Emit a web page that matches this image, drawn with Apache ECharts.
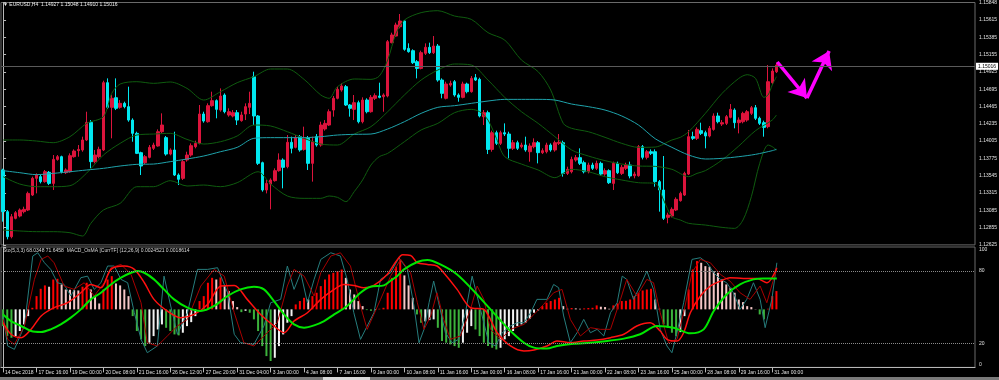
<!DOCTYPE html>
<html><head><meta charset="utf-8">
<script src="https://cdn.jsdelivr.net/npm/echarts@6/dist/echarts.min.js"></script>
<style>html,body{margin:0;padding:0;background:#000;}#c{width:999px;height:380px;}</style>
</head><body><div id="c"></div>
<script>
const priceTicks = [1.12625,1.12855,1.13085,1.13315,1.13545,1.13775,1.14005,1.14235,1.14465,1.14695,1.14925,1.15155,1.15385,1.15615,1.15848];
const stochTicks = [0,20,80,100];
const timeLabels = ['14 Dec 2018','17 Dec 16:00','19 Dec 00:00','20 Dec 08:00','21 Dec 16:00','26 Dec 12:00','27 Dec 20:00','31 Dec 04:00','3 Jan 00:00','4 Jan 08:00','7 Jan 16:00','9 Jan 00:00','10 Jan 08:00','11 Jan 16:00','15 Jan 00:00','16 Jan 08:00','17 Jan 16:00','21 Jan 00:00','22 Jan 08:00','23 Jan 16:00','25 Jan 00:00','28 Jan 08:00','29 Jan 16:00','31 Jan 00:00'];

const open = [1.13621,1.13067,1.12734,1.12978,1.13009,1.13067,1.13089,1.13288,1.13510,1.13532,
1.13466,1.13590,1.13443,1.13762,1.13798,1.13585,1.13598,1.13798,1.13878,1.13887,
1.14020,1.14254,1.13732,1.13798,1.13887,1.14782,1.14454,1.14582,1.14454,1.14507,
1.14463,1.14285,1.14108,1.13851,1.13718,1.13789,1.13909,1.13940,1.14130,1.14051,
1.13833,1.13887,1.13554,1.13510,1.13754,1.13820,1.13931,1.13975,1.14365,1.14263,
1.14476,1.14543,1.14418,1.14618,1.14352,1.14339,1.14383,1.14277,1.14365,1.14454,
1.14862,1.14339,1.13718,1.13355,1.13435,1.13479,1.13612,1.13754,1.13665,1.13989,
1.13922,1.14064,1.13895,1.14042,1.13709,1.14064,1.13953,1.14166,1.14219,1.14418,
1.14574,1.14684,1.14729,1.14485,1.14427,1.14516,1.14263,1.14551,1.14396,1.14574,
1.14605,1.14596,1.14605,1.15314,1.15402,1.15526,1.15602,1.15238,1.15207,1.15061,
1.14972,1.15172,1.15252,1.15181,1.15269,1.14817,1.14574,1.14751,1.14795,1.14618,
1.14587,1.14764,1.14662,1.14848,1.14826,1.14330,1.14383,1.13895,1.14117,1.13975,
1.14117,1.14099,1.13909,1.13984,1.13931,1.13953,1.13864,1.13931,1.13984,1.13851,
1.13864,1.13953,1.13887,1.13975,1.13984,1.13576,1.13598,1.13754,1.13785,1.13718,
1.13598,1.13687,1.13643,1.13709,1.13567,1.13612,1.13443,1.13709,1.13576,1.13643,
1.13687,1.13545,1.13545,1.13931,1.13789,1.13864,1.13864,1.13466,1.13355,1.12991,
1.13009,1.13089,1.13213,1.13288,1.13567,1.14064,1.14042,1.14144,1.14117,1.14073,
1.14161,1.14339,1.14232,1.14241,1.14321,1.14418,1.14250,1.14263,1.14285,1.14374,
1.14449,1.14308,1.14250,1.14197,1.14782,1.14927];
const high = [1.13638,1.13089,1.13036,1.13075,1.13110,1.13133,1.13333,1.13532,1.13576,1.13563,
1.13621,1.13607,1.13820,1.13820,1.13811,1.13643,1.13842,1.13895,1.13953,1.14064,
1.14396,1.14285,1.13887,1.13931,1.14808,1.14839,1.14618,1.14839,1.14551,1.14529,
1.14729,1.14308,1.14130,1.13864,1.13820,1.13953,1.13984,1.14161,1.14374,1.14073,
1.13909,1.14130,1.13576,1.13754,1.13864,1.13975,1.14011,1.14485,1.14396,1.14507,
1.14662,1.14560,1.14706,1.14640,1.14441,1.14418,1.14418,1.14396,1.14507,1.14662,
1.14928,1.14352,1.13732,1.13488,1.13510,1.13643,1.13842,1.13776,1.14086,1.14064,
1.14086,1.14086,1.14197,1.14073,1.14064,1.14099,1.14263,1.14285,1.14427,1.14605,
1.14729,1.14773,1.14751,1.14498,1.14618,1.14543,1.14587,1.14574,1.14618,1.14640,
1.14782,1.14640,1.15349,1.15447,1.15580,1.15695,1.15615,1.15305,1.15225,1.15083,
1.15207,1.15305,1.15314,1.15402,1.15296,1.14839,1.14795,1.14808,1.14817,1.14640,
1.14795,1.14782,1.14870,1.14897,1.14848,1.14418,1.14410,1.14144,1.14144,1.14144,
1.14241,1.14130,1.14020,1.14011,1.13984,1.14064,1.13975,1.14042,1.14006,1.13909,
1.13984,1.13975,1.14011,1.14099,1.14011,1.13665,1.13798,1.13820,1.13909,1.13745,
1.13718,1.13718,1.13745,1.13732,1.13643,1.13630,1.13732,1.13732,1.13687,1.13718,
1.13732,1.13598,1.13953,1.13953,1.13887,1.13895,1.13895,1.13488,1.13807,1.13053,
1.13124,1.13257,1.13333,1.13598,1.14153,1.14130,1.14188,1.14250,1.14144,1.14206,
1.14374,1.14383,1.14285,1.14352,1.14498,1.14441,1.14321,1.14396,1.14418,1.14472,
1.14485,1.14330,1.14277,1.15017,1.14972,1.15048];
const low = [1.12934,1.12699,1.12712,1.12965,1.12991,1.13044,1.13075,1.13275,1.13310,1.13443,
1.13452,1.13421,1.13355,1.13745,1.13576,1.13567,1.13585,1.13785,1.13798,1.13864,
1.14006,1.13643,1.13709,1.13776,1.13873,1.14432,1.14042,1.14418,1.14436,1.14441,
1.14263,1.13997,1.13833,1.13554,1.13700,1.13776,1.13887,1.13931,1.14108,1.13811,
1.13816,1.13541,1.13421,1.13488,1.13732,1.13798,1.13909,1.13962,1.14250,1.14250,
1.14463,1.14308,1.14396,1.14374,1.14330,1.14321,1.14219,1.14263,1.14285,1.14365,
1.14219,1.13687,1.13333,1.13310,1.13098,1.13466,1.13598,1.13377,1.13643,1.13842,
1.13909,1.13864,1.13878,1.13621,1.13466,1.13931,1.13931,1.14144,1.14206,1.14330,
1.14560,1.14662,1.14472,1.14330,1.14285,1.14241,1.14241,1.14374,1.14383,1.14551,
1.14574,1.14396,1.14587,1.15305,1.15393,1.15504,1.15207,1.15181,1.15030,1.14839,
1.14959,1.15150,1.15163,1.15163,1.14795,1.14574,1.14560,1.14729,1.14596,1.14529,
1.14574,1.14640,1.14649,1.14804,1.14321,1.14219,1.13833,1.13864,1.13953,1.13953,
1.14073,1.13776,1.13887,1.13887,1.13909,1.13864,1.13732,1.13909,1.13709,1.13833,
1.13842,1.13864,1.13864,1.13953,1.13532,1.13554,1.13576,1.13732,1.13687,1.13576,
1.13576,1.13621,1.13621,1.13541,1.13545,1.13435,1.13355,1.13567,1.13554,1.13621,
1.13510,1.13510,1.13532,1.13762,1.13762,1.13820,1.13399,1.13067,1.12956,1.12912,
1.12991,1.13075,1.13200,1.13275,1.13554,1.14020,1.14020,1.14086,1.13909,1.14055,
1.14144,1.14241,1.14206,1.14219,1.14308,1.14175,1.14108,1.14241,1.14263,1.14352,
1.14285,1.14219,1.14064,1.14175,1.14764,1.14910];
const close = [1.13067,1.12734,1.13000,1.13053,1.13089,1.13098,1.13310,1.13510,1.13554,1.13466,
1.13598,1.13443,1.13762,1.13798,1.13598,1.13621,1.13811,1.13873,1.13895,1.14020,
1.14254,1.13732,1.13820,1.13895,1.14782,1.14454,1.14574,1.14441,1.14507,1.14463,
1.14285,1.14108,1.13842,1.13674,1.13798,1.13922,1.13953,1.14130,1.14219,1.13833,
1.13887,1.13554,1.13497,1.13732,1.13820,1.13944,1.13975,1.14365,1.14272,1.14476,
1.14543,1.14427,1.14605,1.14396,1.14396,1.14383,1.14285,1.14352,1.14463,1.14507,
1.14339,1.13709,1.13355,1.13443,1.13488,1.13612,1.13754,1.13656,1.13989,1.13909,
1.14051,1.13887,1.14042,1.13709,1.13997,1.13953,1.14219,1.14241,1.14396,1.14574,
1.14693,1.14738,1.14485,1.14441,1.14516,1.14263,1.14551,1.14396,1.14587,1.14609,
1.14587,1.14618,1.15327,1.15416,1.15549,1.15602,1.15225,1.15194,1.15048,1.14972,
1.15181,1.15252,1.15181,1.15269,1.14817,1.14640,1.14764,1.14773,1.14618,1.14587,
1.14764,1.14662,1.14839,1.14817,1.14339,1.14383,1.13895,1.14117,1.13975,1.14117,
1.14099,1.13909,1.13984,1.13909,1.13953,1.13887,1.13940,1.13984,1.13851,1.13878,
1.13953,1.13887,1.13984,1.13989,1.13576,1.13630,1.13762,1.13785,1.13709,1.13598,
1.13687,1.13643,1.13709,1.13567,1.13612,1.13452,1.13709,1.13585,1.13656,1.13687,
1.13541,1.13567,1.13931,1.13789,1.13864,1.13842,1.13466,1.13355,1.12978,1.13022,
1.13098,1.13231,1.13310,1.13576,1.14064,1.14042,1.14161,1.14108,1.14073,1.14175,
1.14339,1.14263,1.14250,1.14330,1.14427,1.14250,1.14285,1.14374,1.14396,1.14449,
1.14308,1.14241,1.14188,1.14795,1.14937,1.15016];

const osma = [-13.9,-22.2,-23.6,-22.2,-18.0,-12.5,-5.6,1.3,11.0,17.1,
19.9,18.8,24.8,25.4,20.7,16.5,16.3,16.0,15.7,18.8,
22.1,16.5,11.0,4.9,16.5,24.8,27.6,21.5,19.9,16.5,
11.0,-5.6,-18.0,-24.9,-30.5,-27.7,-22.2,-16.7,-12.5,-15.3,
-18.0,-20.8,-21.6,-19.4,-13.9,-10.6,-5.6,6.9,11.0,22.1,
26.2,24.8,26.5,19.3,15.2,6.9,1.9,-2.3,-1.2,-2.8,
-8.3,-18.0,-30.5,-38.8,-42.9,-40.2,-30.5,-20.8,-11.1,-5.6,
4.1,6.9,9.6,8.2,11.0,13.8,19.3,24.8,29.0,30.4,
31.8,33.1,26.2,16.5,12.4,6.9,2.7,-0.6,-1.2,-0.6,
0.5,1.3,13.8,26.2,35.4,41.4,28.2,19.9,9.6,-4.2,
-11.1,-10.0,-8.9,-8.3,-15.3,-26.3,-27.7,-29.1,-30.5,-31.9,
-27.7,-19.4,-13.9,-16.7,-22.2,-27.7,-30.5,-31.9,-33.3,-31.9,
-24.9,-22.2,-18.0,-13.9,-12.5,-11.1,-7.8,-2.8,-0.9,2.7,
5.5,6.9,8.2,9.6,2.7,0.5,1.1,0.8,0.5,0.8,
1.1,1.3,3.3,2.2,1.9,0.5,3.3,4.9,6.9,7.1,
8.2,11.0,13.8,15.7,16.5,17.1,8.2,0.5,-12.5,-15.3,
-19.4,-22.2,-18.9,-5.6,16.5,33.1,40.1,38.7,35.9,35.4,
31.8,30.4,24.8,20.7,17.9,13.8,8.2,6.0,2.7,1.9,
0.2,-4.2,-8.3,0.5,11.0,15.2];

const bbUpper = [[0,1.14020],[4,1.14020],[8,1.14006],[12,1.13984],[16,1.14064],[20,1.14241],[24,1.14330],[26,1.14640],[28,1.14764],[32,1.14795],[36,1.14773],[40,1.14791],[44,1.14706],[48,1.14551],[52,1.14662],[56,1.14782],[60,1.14862],[64,1.14964],[68,1.14964],[72,1.14826],[76,1.14618],[78,1.14574],[80,1.14729],[84,1.14831],[88,1.14826],[90,1.14870],[92,1.15083],[94,1.15438],[96,1.15615],[100,1.15713],[104,1.15739],[108,1.15668],[112,1.15624],[116,1.15447],[120,1.15349],[124,1.15083],[128,1.14928],[131,1.14684],[134,1.14241],[136,1.14175],[140,1.14130],[144,1.14055],[148,1.13975],[152,1.13922],[156,1.13926],[160,1.14020],[162,1.14055],[164,1.14130],[168,1.14374],[172,1.14640],[176,1.14839],[178,1.14888],[180,1.14839],[182,1.14587],[183,1.14618],[184,1.14751],[185,1.14862]];
const bbMiddle = [[0,1.13532],[4,1.13434],[8,1.13399],[12,1.13399],[16,1.13412],[20,1.13580],[24,1.13820],[28,1.13975],[32,1.14086],[36,1.14099],[40,1.14108],[44,1.14028],[48,1.13966],[52,1.13997],[56,1.14073],[60,1.14219],[64,1.14206],[68,1.14130],[72,1.14042],[76,1.13966],[80,1.13953],[84,1.14099],[88,1.14197],[92,1.14396],[96,1.14618],[100,1.14817],[104,1.14950],[108,1.15030],[112,1.15017],[116,1.14817],[120,1.14587],[124,1.14396],[128,1.14241],[132,1.14064],[136,1.13887],[140,1.13807],[144,1.13745],[148,1.13700],[152,1.13674],[156,1.13669],[160,1.13630],[164,1.13532],[166,1.13576],[168,1.13612],[172,1.13754],[176,1.13940],[180,1.14144],[184,1.14285],[185,1.14352]];
const bbLower = [[0,1.12823],[4,1.12810],[8,1.12801],[12,1.12801],[16,1.12787],[19,1.12743],[21,1.12912],[24,1.13089],[28,1.13177],[32,1.13399],[36,1.13399],[40,1.13479],[44,1.13408],[48,1.13421],[52,1.13399],[56,1.13452],[61,1.13598],[64,1.13434],[68,1.13275],[72,1.13244],[76,1.13244],[78,1.13275],[80,1.13257],[82,1.13200],[84,1.13333],[86,1.13488],[88,1.13687],[90,1.13798],[92,1.13842],[96,1.13997],[100,1.14153],[104,1.14241],[108,1.14383],[112,1.14427],[114,1.14396],[116,1.14285],[118,1.14042],[120,1.13798],[124,1.13700],[128,1.13621],[132,1.13519],[136,1.13630],[140,1.13598],[144,1.13532],[148,1.13488],[152,1.13452],[156,1.13443],[158,1.13222],[160,1.13000],[162,1.12956],[164,1.12912],[168,1.12889],[172,1.12858],[175,1.12845],[177,1.12956],[179,1.13266],[181,1.13709],[183,1.13953],[184,1.13931],[185,1.13887]];
const maLine = [[0,1.13612],[4,1.13585],[8,1.13559],[12,1.13576],[16,1.13598],[20,1.13621],[24,1.13643],[28,1.13674],[32,1.13696],[36,1.13700],[40,1.13732],[44,1.13767],[48,1.13807],[52,1.13864],[56,1.13922],[60,1.14042],[64,1.14051],[68,1.14051],[72,1.14051],[76,1.14064],[80,1.14086],[84,1.14095],[88,1.14099],[92,1.14166],[96,1.14263],[100,1.14374],[104,1.14454],[108,1.14476],[112,1.14507],[116,1.14538],[120,1.14560],[124,1.14560],[128,1.14560],[132,1.14551],[136,1.14498],[140,1.14463],[144,1.14418],[148,1.14339],[152,1.14219],[156,1.14037],[160,1.13922],[164,1.13820],[168,1.13767],[172,1.13776],[176,1.13798],[180,1.13829],[184,1.13878],[185,1.13895]];

const stoMain = [[0,42.7],[1.1,17.8],[2.7,15.0],[5.1,34.4],[7.1,92.5],[8.3,95.2],[9.9,86.9],[11.4,81.4],[13,70.3],[14.6,68.9],[16.2,59.3],[18.6,74.5],[20.2,75.8],[21.8,64.8],[23.4,70.3],[25,84.2],[26.6,84.2],[28.2,73.1],[29.8,70.3],[31.4,45.4],[33,23.3],[34.5,12.2],[36.9,17.8],[38.5,75.8],[40.1,51.0],[41.7,27.5],[44.1,45.4],[46.5,81.4],[48.9,81.4],[51.3,82.8],[53.7,62.0],[55.3,27.5],[56.8,20.5],[60,19.1],[62.4,34.4],[64,53.7],[66.4,56.5],[68,84.2],[69.6,64.8],[71.2,78.6],[72.8,53.7],[74.4,73.1],[76,89.7],[78.4,95.2],[80.7,92.5],[82.3,73.1],[83.9,45.4],[85.5,23.3],[87.1,34.4],[88.7,45.4],[90.3,73.1],[92.7,78.6],[94.7,91.1],[96.7,81.4],[98.3,51.0],[99.5,20.5],[100.7,31.6],[101.9,53.7],[103,71.7],[104.2,53.7],[105.8,28.8],[107.4,20.5],[109,23.3],[110.6,45.4],[112.2,75.8],[113.4,59.3],[114.6,42.7],[116.2,20.5],[117.8,17.8],[119.4,28.8],[121.4,34.4],[123,37.1],[124.6,37.1],[126.2,45.4],[127.7,56.5],[130.1,56.5],[131.7,68.9],[132.9,66.2],[134.1,42.7],[135.7,20.5],[137.3,28.8],[138.9,39.9],[140.5,28.8],[142.1,31.6],[143.7,26.1],[145.3,45.4],[146.9,53.7],[148.1,75.8],[149.2,73.1],[150.8,56.5],[152.4,67.6],[154,80.0],[155.6,64.8],[157.2,31.6],[158.8,17.8],[160,12.2],[161.2,28.8],[162.8,53.7],[164.8,89.7],[166.8,91.1],[168.4,86.9],[170,78.6],[171.6,73.1],[173.1,70.3],[174.7,62.0],[176.3,48.2],[177.9,56.5],[179.5,70.3],[181.1,56.5],[182.3,33.0],[183.9,56.5],[185.1,86.9]];
const stoSignal = [[0,39.9],[1.1,23.3],[2.7,19.1],[5.1,34.4],[7.5,73.1],[9.1,89.7],[10.7,92.5],[12.2,86.9],[14.6,67.6],[17,64.8],[19.4,70.3],[21.8,59.3],[24.2,70.3],[25.8,82.8],[28.2,85.5],[30.6,77.2],[33,53.7],[34.5,20.5],[36.9,17.8],[39.3,26.1],[41.7,34.4],[44.1,39.9],[47.3,67.6],[50.5,81.4],[52.9,75.8],[55.3,45.4],[57.6,20.5],[60,17.8],[62.4,26.1],[65.6,37.1],[68,67.6],[69.6,81.4],[72,75.8],[74.4,59.3],[76,78.6],[78.4,92.5],[80.7,95.2],[83.1,84.2],[85.5,51.0],[87.1,31.6],[90.3,56.5],[92.7,75.8],[95.1,89.7],[97.5,78.6],[99.1,53.7],[100.7,31.6],[102.3,42.7],[103.8,62.0],[105.4,39.9],[107,23.3],[109.4,26.1],[111.8,48.2],[113.4,67.6],[115,56.5],[116.6,31.6],[119,23.3],[121.4,31.6],[124.6,35.7],[127,44.0],[129.3,52.3],[131.7,62.0],[133.7,64.8],[135.7,39.9],[138.1,26.1],[140.5,33.0],[142.9,31.6],[145.3,31.6],[147.7,56.5],[149.2,73.1],[151.6,59.3],[154,73.1],[155.6,70.3],[157.2,45.4],[159.2,20.5],[161.2,23.3],[162.8,45.4],[164.8,78.6],[166.8,89.7],[169.2,86.9],[171.6,77.2],[173.9,71.7],[176.3,62.0],[178.7,56.5],[181.1,67.6],[182.7,53.7],[184.3,73.1],[185.1,81.4]];
const redLine = [[0,37.1],[1.9,27.5],[4.3,24.7],[6.7,31.6],[9.1,42.7],[12.2,49.6],[15.4,53.7],[18.6,62.0],[21,68.9],[23.4,66.2],[25.8,81.4],[29,84.2],[31.4,81.4],[33.8,70.3],[36.1,56.5],[39.3,46.8],[42.5,41.3],[45.7,44.0],[48.9,52.3],[52.1,67.6],[55.3,68.1],[58.4,56.5],[61.6,44.0],[64.8,34.4],[67.2,28.8],[69.6,38.5],[72.8,45.4],[76,56.5],[79.2,64.8],[81.5,68.9],[83.9,68.1],[86.3,66.2],[88.7,68.1],[91.9,77.2],[94,88.0],[95.6,93.5],[97.5,93.0],[99.1,86.9],[101.5,85.5],[103.8,84.2],[105.4,78.6],[108.6,64.8],[111.8,49.6],[115,48.2],[118.2,28.8],[121.4,17.8],[124.6,13.6],[127,14.5],[130.1,17.8],[132.5,21.9],[135.7,20.5],[138.9,21.9],[142.1,22.7],[145.3,24.7],[148.5,27.5],[151.6,34.4],[154.8,37.1],[157.2,30.2],[158.8,23.3],[161.2,21.9],[162.8,28.8],[164.4,45.4],[166.8,59.3],[169.2,67.6],[171.6,71.7],[173.9,74.5],[177.1,73.9],[180.3,73.9],[182.7,70.3],[185.1,82.8]];
const greenLine = [[0,44.0],[1.9,38.5],[4.3,34.4],[6.7,30.2],[9.1,29.4],[11.4,31.6],[13.8,35.7],[16.2,41.3],[18.6,48.2],[21,56.5],[23.4,62.0],[25.8,68.9],[28.2,74.5],[30.6,78.6],[32.2,80.0],[33.8,78.6],[36.1,73.1],[38.5,64.8],[40.9,56.5],[44.1,49.6],[47.3,46.8],[50.5,51.0],[53.7,59.3],[56.8,64.8],[60,67.0],[62.4,64.8],[64.8,55.1],[67.2,44.0],[69.6,35.7],[72,33.0],[74.4,34.9],[76.8,38.5],[79.2,44.0],[82.3,51.0],[85.5,62.0],[87.9,67.0],[91.1,68.1],[92.7,72.0],[94.3,76.0],[95.9,81.4],[99.1,87.5],[101.5,89.1],[104.6,85.5],[108.6,77.2],[112.6,63.4],[116.6,48.2],[120.6,33.0],[124.6,20.5],[127,16.4],[130.1,15.6],[132.5,17.8],[136.5,19.7],[140.5,20.5],[144.5,21.9],[148.5,23.9],[152.4,27.5],[156.4,34.4],[160.4,33.0],[164.4,28.3],[167.6,31.6],[170,46.8],[173.1,60.6],[176.3,68.9],[179.5,73.1],[181.9,73.9],[185.1,73.9]];

const arrowPath = [[185.2,1.15057],[192.3,1.14578],[197.6,1.15203]];
const currentPrice = 1.15016;
const titleMain = '\u25BC EURUSD,H4  1.14927 1.15048 1.14910 1.15016';
const titleSub = 'Sto(5,3,3) 68.0348 71.6458  MACD_OsMA [CurrTF] (12,26,9) 0.0024521 0.0018614';

const SLOTS = 233;
const FONT = 'Liberation Sans';
const cats = Array.from({length: SLOTS}, (_, i) => (i % 8 === 0 && i / 8 < timeLabels.length) ? timeLabels[i / 8] : '');
const ohlc = open.map((o, i) => [o, close[i], low[i], high[i]]);
const histData = osma.map((v, i) => {
  const p = i ? osma[i - 1] : v;
  let c;
  if (v >= 0) c = v >= p ? '#ff0000' : '#f4c6c6';
  else c = v <= p ? '#3cb33c' : '#f2f2f2';
  return {value: v, itemStyle: {color: c}};
});
const showTick = (idx, val) => val !== '';
const axisCol = '#b8b8b8';
const labCol = '#e0e0e0';

const chart = echarts.init(document.getElementById('c'), null, {renderer: 'canvas'});
chart.setOption({
  animation: false,
  backgroundColor: '#000',
  title: [
    {text: titleMain, left: 3, top: 2, padding: 0, textStyle: {color: '#f0f0f0', fontSize: 5, fontWeight: 'normal', fontFamily: FONT}},
    {text: titleSub, left: 3, top: 248, padding: 0, textStyle: {color: '#d8d8d8', fontSize: 5, fontWeight: 'normal', fontFamily: FONT}}
  ],
  grid: [
    {left: 1, right: 24, top: 2.5, height: 242.4, show: true, borderColor: '#6a6a6a', borderWidth: 1, outerBoundsMode: 'none', containLabel: false},
    {left: 1, right: 24, top: 247, height: 120.4, show: true, borderColor: '#6a6a6a', borderWidth: 1, outerBoundsMode: 'none', containLabel: false}
  ],
  xAxis: [
    {type: 'category', gridIndex: 0, data: cats, boundaryGap: true, axisLine: {show: false}, axisTick: {show: false}, axisLabel: {show: false}, splitLine: {show: false}},
    {type: 'value', gridIndex: 0, min: -0.5, max: SLOTS - 0.5, show: false},
    {type: 'category', gridIndex: 1, data: cats, boundaryGap: true,
     axisLine: {show: true, lineStyle: {color: axisCol, width: 1}},
     axisTick: {show: true, interval: showTick, alignWithLabel: true, length: 5, lineStyle: {color: axisCol}},
     axisLabel: {show: true, interval: showTick, align: 'left', padding: [0, 0, 0, 2], margin: 3, color: labCol, fontSize: 5, fontFamily: FONT},
     splitLine: {show: false}},
    {type: 'value', gridIndex: 1, min: -0.5, max: SLOTS - 0.5, show: false}
  ],
  yAxis: [
    {type: 'value', gridIndex: 0, position: 'right', min: 1.12625, max: 1.15848,
     axisLine: {show: true, lineStyle: {color: axisCol}},
     axisTick: {show: true, length: 3, customValues: priceTicks, lineStyle: {color: axisCol}},
     axisLabel: {show: true, customValues: priceTicks, formatter: v => v.toFixed(5), color: labCol, fontSize: 5, margin: 4, fontFamily: FONT},
     splitLine: {show: false}},
    {type: 'value', gridIndex: 1, position: 'right', min: 0, max: 100,
     axisLine: {show: true, lineStyle: {color: axisCol}},
     axisTick: {show: true, length: 3, customValues: stochTicks, lineStyle: {color: axisCol}},
     axisLabel: {show: true, customValues: stochTicks, formatter: v => String(v), color: labCol, fontSize: 5, margin: 4, fontFamily: FONT, verticalAlignMinLabel: 'bottom', verticalAlignMaxLabel: 'top'},
     splitLine: {show: false}},
    {type: 'value', gridIndex: 1, min: -48.2, max: 51.8, show: false}
  ],
  series: [
    {type: 'line', name: 'BB upper', xAxisIndex: 1, yAxisIndex: 0, data: bbUpper, showSymbol: false, smooth: 0.3, lineStyle: {color: '#0f5c0f', width: 1}, silent: true},
    {type: 'line', name: 'BB middle', xAxisIndex: 1, yAxisIndex: 0, data: bbMiddle, showSymbol: false, smooth: 0.3, lineStyle: {color: '#0f5c0f', width: 1}, silent: true},
    {type: 'line', name: 'BB lower', xAxisIndex: 1, yAxisIndex: 0, data: bbLower, showSymbol: false, smooth: 0.3, lineStyle: {color: '#0f5c0f', width: 1}, silent: true},
    {type: 'line', name: 'MA', xAxisIndex: 1, yAxisIndex: 0, data: maLine, showSymbol: false, smooth: 0.3, lineStyle: {color: '#1fa3ab', width: 1}, silent: true,
     markLine: {silent: true, symbol: ['none', 'arrow'], symbolSize: 17, label: {show: false},
       lineStyle: {color: '#ff00ff', width: 3.5, type: 'solid'},
       data: [
         [{coord: arrowPath[0]}, {coord: arrowPath[1]}],
         [{coord: arrowPath[1]}, {coord: arrowPath[2]}]
       ]}},
    {type: 'candlestick', name: 'EURUSD', xAxisIndex: 0, yAxisIndex: 0, data: ohlc, barWidth: 3,
     itemStyle: {color: '#dc143c', color0: '#00e8f0', borderColor: '#dc143c', borderColor0: '#00e8f0', borderWidth: 1},
     markLine: {silent: true, symbol: ['none', 'none'],
       lineStyle: {color: '#5a5a5a', width: 1, type: 'solid'},
       label: {show: true, position: 'end', distance: 1, formatter: () => currentPrice.toFixed(5), backgroundColor: '#ffffff', color: '#000', fontSize: 5, fontFamily: FONT, padding: [1, 2, 1, 2]},
       data: [{yAxis: currentPrice}]}},
    {type: 'bar', name: 'OsMA', xAxisIndex: 2, yAxisIndex: 2, data: histData, barWidth: 2, silent: true},
    {type: 'line', name: 'Sto main', xAxisIndex: 3, yAxisIndex: 1, data: stoMain, showSymbol: false, lineStyle: {color: '#267d7d', width: 1}, silent: true,
     markLine: {silent: true, symbol: ['none', 'none'], label: {show: false}, lineStyle: {color: '#8a8a8a', width: 1, type: 'dotted'}, data: [{yAxis: 20}, {yAxis: 80}]}},
    {type: 'line', name: 'Sto signal', xAxisIndex: 3, yAxisIndex: 1, data: stoSignal, showSymbol: false, lineStyle: {color: '#a80000', width: 1}, silent: true},
    {type: 'line', name: 'Red', xAxisIndex: 3, yAxisIndex: 1, data: redLine, showSymbol: false, smooth: 0.3, lineStyle: {color: '#ff1010', width: 1.5}, silent: true},
    {type: 'line', name: 'Green', xAxisIndex: 3, yAxisIndex: 1, data: greenLine, showSymbol: false, smooth: 0.3, lineStyle: {color: '#00e600', width: 2}, silent: true}
  ],
  graphic: [
    {type: 'rect', left: 0, top: 377, shape: {width: 999, height: 3}, style: {fill: '#7a7a7a'}, silent: true},
    {type: 'rect', left: 323, top: 377, shape: {width: 47, height: 3}, style: {fill: '#d8d8d8'}, silent: true}
  ]
});
</script></body></html>
